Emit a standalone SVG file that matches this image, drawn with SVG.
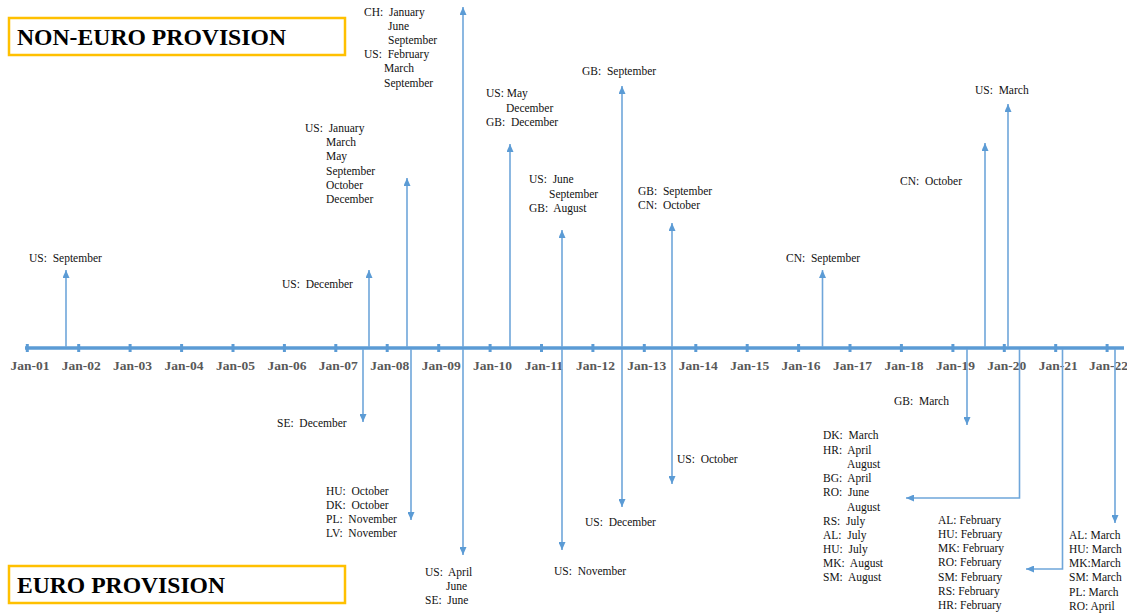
<svg xmlns="http://www.w3.org/2000/svg" width="1127" height="614" viewBox="0 0 1127 614">
<style>
.t{font-family:"Liberation Serif","Times New Roman",serif;font-size:11.5px;fill:#111;white-space:pre}
.ax{font-family:"Liberation Serif","Times New Roman",serif;font-size:13.5px;font-weight:bold;fill:#595959;text-anchor:middle}
.ttl{font-family:"Liberation Serif","Times New Roman",serif;font-size:24px;font-weight:bold;fill:#000}
.box{fill:#fff;stroke:#FFC000;stroke-width:2.5}
.ar{stroke:#6FA6DA;stroke-width:1.6;fill:none;marker-end:url(#ah)}
.axis{stroke:#5B9BD5;stroke-width:3.5}
.tick{stroke:#5B9BD5;stroke-width:3}
</style>
<defs>
<marker id="ah" markerUnits="userSpaceOnUse" markerWidth="8" markerHeight="7" refX="8" refY="3.5" orient="auto">
<path d="M0,0 L8,3.5 L0,7 z" fill="#5B9BD5"/>
</marker>
</defs>
<rect width="1127" height="614" fill="#fff"/>

<g id="title-noneuro">
<rect class="box" x="9" y="18" width="336" height="37"/>
<text class="ttl" x="17" y="45" textLength="269" lengthAdjust="spacingAndGlyphs">NON-EURO PROVISION</text>
</g>
<g id="title-euro">
<rect class="box" x="9" y="566" width="336" height="37"/>
<text class="ttl" x="17" y="593" textLength="208" lengthAdjust="spacingAndGlyphs">EURO PROVISION</text>
</g>

<g id="timeline">
<line class="axis" x1="25" y1="348" x2="1124" y2="348"/>
<g class="ticks">
<line class="tick" x1="27.3" y1="344" x2="27.3" y2="352"/>
<line class="tick" x1="78.7" y1="344" x2="78.7" y2="352"/>
<line class="tick" x1="130.1" y1="344" x2="130.1" y2="352"/>
<line class="tick" x1="181.6" y1="344" x2="181.6" y2="352"/>
<line class="tick" x1="233" y1="344" x2="233" y2="352"/>
<line class="tick" x1="284.4" y1="344" x2="284.4" y2="352"/>
<line class="tick" x1="335.8" y1="344" x2="335.8" y2="352"/>
<line class="tick" x1="387.2" y1="344" x2="387.2" y2="352"/>
<line class="tick" x1="438.7" y1="344" x2="438.7" y2="352"/>
<line class="tick" x1="490.1" y1="344" x2="490.1" y2="352"/>
<line class="tick" x1="541.5" y1="344" x2="541.5" y2="352"/>
<line class="tick" x1="592.9" y1="344" x2="592.9" y2="352"/>
<line class="tick" x1="644.3" y1="344" x2="644.3" y2="352"/>
<line class="tick" x1="695.8" y1="344" x2="695.8" y2="352"/>
<line class="tick" x1="747.2" y1="344" x2="747.2" y2="352"/>
<line class="tick" x1="798.6" y1="344" x2="798.6" y2="352"/>
<line class="tick" x1="850" y1="344" x2="850" y2="352"/>
<line class="tick" x1="901.4" y1="344" x2="901.4" y2="352"/>
<line class="tick" x1="952.9" y1="344" x2="952.9" y2="352"/>
<line class="tick" x1="1004.3" y1="344" x2="1004.3" y2="352"/>
<line class="tick" x1="1055.7" y1="344" x2="1055.7" y2="352"/>
<line class="tick" x1="1107.1" y1="344" x2="1107.1" y2="352"/>
</g>
<g class="labels">
<text class="ax" x="30" y="370">Jan-01</text>
<text class="ax" x="81.2" y="370">Jan-02</text>
<text class="ax" x="132.6" y="370">Jan-03</text>
<text class="ax" x="184.1" y="370">Jan-04</text>
<text class="ax" x="235.5" y="370">Jan-05</text>
<text class="ax" x="286.9" y="370">Jan-06</text>
<text class="ax" x="338.3" y="370">Jan-07</text>
<text class="ax" x="389.7" y="370">Jan-08</text>
<text class="ax" x="441.2" y="370">Jan-09</text>
<text class="ax" x="492.6" y="370">Jan-10</text>
<text class="ax" x="544" y="370">Jan-11</text>
<text class="ax" x="595.4" y="370">Jan-12</text>
<text class="ax" x="646.8" y="370">Jan-13</text>
<text class="ax" x="698.3" y="370">Jan-14</text>
<text class="ax" x="749.7" y="370">Jan-15</text>
<text class="ax" x="801.1" y="370">Jan-16</text>
<text class="ax" x="852.5" y="370">Jan-17</text>
<text class="ax" x="903.9" y="370">Jan-18</text>
<text class="ax" x="955.4" y="370">Jan-19</text>
<text class="ax" x="1006.8" y="370">Jan-20</text>
<text class="ax" x="1058.2" y="370">Jan-21</text>
<text class="ax" x="1108.6" y="370">Jan-22</text>
</g>
</g>

<g id="connectors">
<line class="ar" x1="66" y1="347" x2="66" y2="270"/>
<line class="ar" x1="369" y1="347" x2="369" y2="270"/>
<line class="ar" x1="407" y1="347" x2="407" y2="178"/>
<line class="ar" x1="463" y1="347" x2="463" y2="7"/>
<line class="ar" x1="510" y1="347" x2="510" y2="144"/>
<line class="ar" x1="562" y1="347" x2="562" y2="230"/>
<line class="ar" x1="622" y1="347" x2="622" y2="86"/>
<line class="ar" x1="672" y1="347" x2="672" y2="223"/>
<line class="ar" x1="822.5" y1="347" x2="822.5" y2="270"/>
<line class="ar" x1="985" y1="347" x2="985" y2="143"/>
<line class="ar" x1="1008" y1="347" x2="1008" y2="104"/>

<line class="ar" x1="363" y1="349" x2="363" y2="422"/>
<line class="ar" x1="411" y1="349" x2="411" y2="520"/>
<line class="ar" x1="463" y1="349" x2="463" y2="555"/>
<line class="ar" x1="562" y1="349" x2="562" y2="550"/>
<line class="ar" x1="622" y1="349" x2="622" y2="507"/>
<line class="ar" x1="672" y1="349" x2="672" y2="484"/>
<line class="ar" x1="967" y1="349" x2="967" y2="425"/>
<polyline class="ar" points="1019.5,349 1019.5,498 906,498"/>
<polyline class="ar" points="1062.5,349 1062.5,569 1026,569"/>
<line class="ar" x1="1115" y1="349" x2="1115" y2="523"/>
</g>

<g id="n-us-2001">
<text class="t" x="29" y="262">US:  September</text>
</g>
<g id="n-us-2007">
<text class="t" x="282" y="288">US:  December</text>
</g>
<g id="n-us-2008">
<text class="t" x="305" y="132">US:  January</text>
<text class="t" x="326" y="146">March</text>
<text class="t" x="326" y="160">May</text>
<text class="t" x="326" y="175">September</text>
<text class="t" x="326" y="189">October</text>
<text class="t" x="326" y="203">December</text>
</g>
<g id="n-ch-us-2009">
<text class="t" x="364" y="16">CH:  January</text>
<text class="t" x="388" y="30">June</text>
<text class="t" x="388" y="44">September</text>
<text class="t" x="364" y="58">US:  February</text>
<text class="t" x="384" y="72">March</text>
<text class="t" x="384" y="87">September</text>
</g>
<g id="n-us-gb-2010">
<text class="t" x="486" y="97">US: May</text>
<text class="t" x="506" y="112">December</text>
<text class="t" x="486" y="126">GB:  December</text>
</g>
<g id="n-us-gb-2011">
<text class="t" x="529" y="183">US:  June</text>
<text class="t" x="549" y="198">September</text>
<text class="t" x="529" y="212">GB:  August</text>
</g>
<g id="n-gb-2012">
<text class="t" x="582" y="75">GB:  September</text>
</g>
<g id="n-gb-cn-2013">
<text class="t" x="638" y="195">GB:  September</text>
<text class="t" x="638" y="209">CN:  October</text>
</g>
<g id="n-cn-2016">
<text class="t" x="786" y="262">CN:  September</text>
</g>
<g id="n-cn-2019">
<text class="t" x="900" y="185">CN:  October</text>
</g>
<g id="n-us-2020">
<text class="t" x="975" y="94">US:  March</text>
</g>

<g id="n-se-2007">
<text class="t" x="277" y="427">SE:  December</text>
</g>
<g id="n-hu-dk-pl-lv-2008">
<text class="t" x="326" y="495">HU:  October</text>
<text class="t" x="326" y="509">DK:  October</text>
<text class="t" x="326" y="523">PL:  November</text>
<text class="t" x="326" y="537">LV:  November</text>
</g>
<g id="n-us-se-2009">
<text class="t" x="425" y="576">US:  April</text>
<text class="t" x="446" y="590">June</text>
<text class="t" x="425" y="604">SE:  June</text>
</g>
<g id="n-us-2011">
<text class="t" x="554" y="575">US:  November</text>
</g>
<g id="n-us-2012">
<text class="t" x="585" y="526">US:  December</text>
</g>
<g id="n-us-2013">
<text class="t" x="677" y="463">US:  October</text>
</g>
<g id="n-gb-2019">
<text class="t" x="894" y="405">GB:  March</text>
</g>
<g id="n-list-2020">
<text class="t" x="823" y="439">DK:  March</text>
<text class="t" x="823" y="454">HR:  April</text>
<text class="t" x="847" y="468">August</text>
<text class="t" x="823" y="482">BG:  April</text>
<text class="t" x="823" y="496">RO:  June</text>
<text class="t" x="847" y="511">August</text>
<text class="t" x="823" y="525">RS:  July</text>
<text class="t" x="823" y="539">AL:  July</text>
<text class="t" x="823" y="553">HU:  July</text>
<text class="t" x="823" y="567">MK:  August</text>
<text class="t" x="823" y="581">SM:  August</text>
</g>
<g id="n-list-2021">
<text class="t" x="938" y="524">AL: February</text>
<text class="t" x="938" y="538">HU: February</text>
<text class="t" x="938" y="552">MK: February</text>
<text class="t" x="938" y="566">RO: February</text>
<text class="t" x="938" y="581">SM: February</text>
<text class="t" x="938" y="595">RS: February</text>
<text class="t" x="938" y="609">HR: February</text>
</g>
<g id="n-list-2022">
<text class="t" x="1069" y="539">AL: March</text>
<text class="t" x="1069" y="553">HU: March</text>
<text class="t" x="1069" y="567">MK:March</text>
<text class="t" x="1069" y="581">SM: March</text>
<text class="t" x="1069" y="596">PL: March</text>
<text class="t" x="1069" y="610">RO: April</text>
</g>
</svg>
